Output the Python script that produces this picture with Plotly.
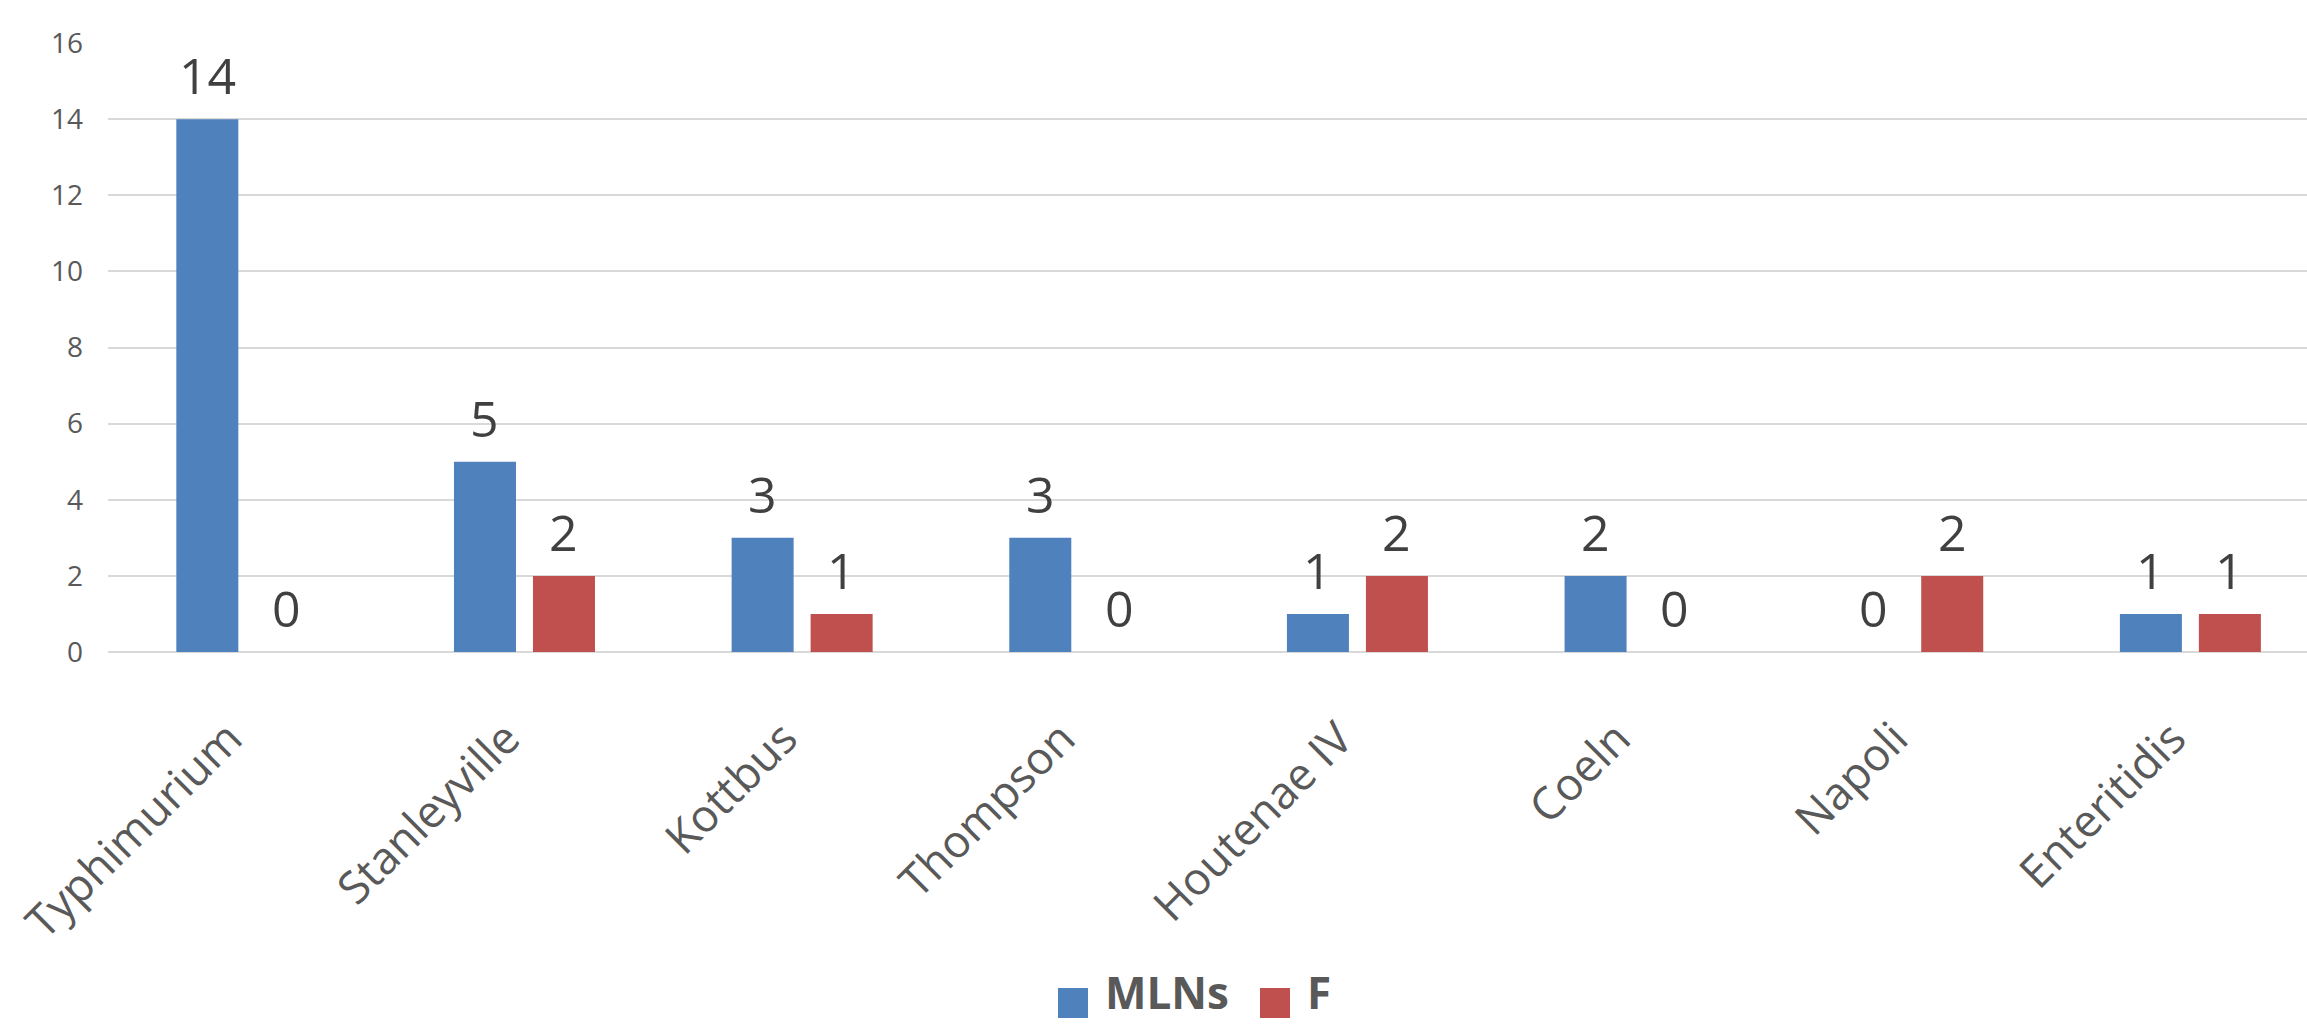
import plotly.graph_objects as go

categories = ["Typhimurium", "Stanleyville", "Kottbus", "Thompson",
              "Houtenae IV", "Coeln", "Napoli", "Enteritidis"]
mlns = [14, 5, 3, 3, 1, 2, 0, 1]
f_vals = [0, 2, 1, 0, 2, 0, 2, 1]
series_names = ["MLNs", "F"]
y_ticks = [0, 2, 4, 6, 8, 10, 12, 14, 16]

BLUE = "#4F81BD"
RED = "#C0504D"
FONT = "Open Sans"

W, H = 2307, 1025
ML, MR, MT, MB = 108, 0, 43, 373
PW = W - ML - MR
PH = H - MT - MB

fig = go.Figure()
fig.add_trace(go.Bar(x=categories, y=mlns, name=series_names[0],
                     marker=dict(color=BLUE, line=dict(width=0)), showlegend=False))
fig.add_trace(go.Bar(x=categories, y=f_vals, name=series_names[1],
                     marker=dict(color=RED, line=dict(width=0)), showlegend=False))

annotations = []
for vals, shift in ((mlns, -39.5), (f_vals, 39.5)):
    for c, v in zip(categories, vals):
        annotations.append(dict(x=c, y=v, xref="x", yref="y", text=str(v),
                                showarrow=False, xanchor="center", yanchor="bottom",
                                xshift=shift, yshift=8,
                                font=dict(family=FONT, size=50, color="#404040")))

# custom legend (large square swatches)
def px_x(p):
    return (p - ML) / PW

def px_y(p):
    return (H - MB - p) / PH

shapes = []
legend_items = [(series_names[0], BLUE, 1058), (series_names[1], RED, 1260)]
for name, col, x0 in legend_items:
    shapes.append(dict(type="rect", xref="paper", yref="paper",
                       x0=px_x(x0), x1=px_x(x0 + 30), y0=px_y(1018), y1=px_y(988),
                       fillcolor=col, line=dict(width=0)))
    annotations.append(dict(x=px_x(x0 + 45), y=px_y(1024), xref="paper", yref="paper",
                            text="<b>%s</b>" % name, showarrow=False,
                            xanchor="left", yanchor="bottom",
                            font=dict(family=FONT, size=44, color="#595959")))

fig.update_layout(
    width=W, height=H,
    margin=dict(l=ML, r=MR, t=MT, b=MB, autoexpand=False),
    paper_bgcolor="white", plot_bgcolor="white",
    barmode="group", bargap=0.431, bargroupgap=0.215,
    font=dict(family=FONT, color="#595959"),
    annotations=annotations, shapes=shapes,
    showlegend=False,
)
fig.update_xaxes(type="category", range=[-0.5, 7.42], tickangle=-45,
                 tickfont=dict(family=FONT, size=45, color="#595959"),
                 showgrid=False, showline=False, zeroline=False, ticks="",
                 ticklabelstandoff=50, ticklabelshift=-18, automargin=False)
fig.update_yaxes(range=[0, 16], tickvals=y_ticks, ticktext=[str(t) for t in y_ticks],
                 tickfont=dict(family=FONT, size=28, color="#595959"),
                 showgrid=True, gridcolor="#D9D9D9", gridwidth=2,
                 zeroline=True, zerolinecolor="#D9D9D9", zerolinewidth=2,
                 showline=False, ticks="", ticklabelstandoff=24, automargin=False)

fig.write_html("out.html")
